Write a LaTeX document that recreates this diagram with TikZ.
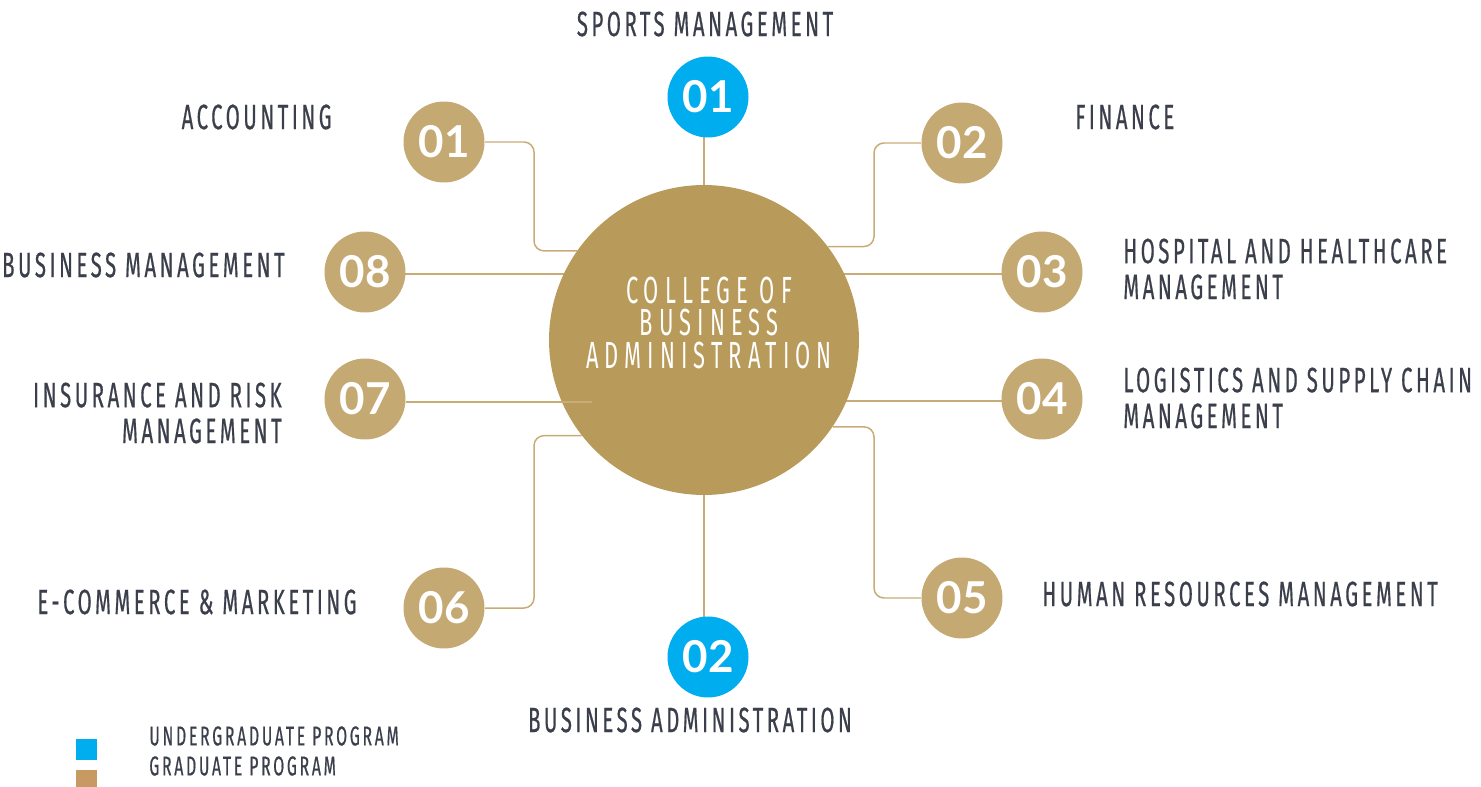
\documentclass[tikz,border=0pt]{standalone}
\usepackage{fontspec}
\usepackage{tikz}
\usetikzlibrary{backgrounds}
\newfontfamily\labfont[FakeStretch=0.58,LetterSpace=10,FakeBold=0.5]{Fira Sans}
\newfontfamily\cbafont[FakeStretch=0.58,LetterSpace=16]{Fira Sans}
\newfontfamily\numfont{Lato}
\definecolor{cbagold}{HTML}{B89A5A}
\definecolor{gradgold}{HTML}{C5A973}
\definecolor{linegold}{HTML}{C8AC78}
\definecolor{ugblue}{HTML}{00AEEF}
\definecolor{legold}{HTML}{C69A62}
\definecolor{labgray}{HTML}{3B3F4B}

\begin{document}
\begin{tikzpicture}[x=0.02cm,y=-0.02cm,
    num/.style={circle,minimum size=1.62cm,inner sep=0pt,text=white,font=\numfont\bfseries\fontsize{25}{25}\selectfont},
    grad/.style={num,fill=gradgold},
    under/.style={num,fill=ugblue},
    link/.style={draw=linegold,line width=0.85pt,rounded corners=0.2cm},
    lbl/.style={text=labgray,inner sep=0pt,font=\labfont\fontsize{20}{20.4}\selectfont},
    cbaline/.style={text=white,inner sep=0pt,text height=15pt,text depth=0pt,font=\cbafont\fontsize{21.5}{21.5}\selectfont},
    legbox/.style={inner sep=0pt,minimum width=0.42cm,minimum height=0.42cm}]
  \useasboundingbox (0,0) rectangle (1481,787);

  % the college in the middle
  \node[circle,fill=cbagold,minimum size=6.2cm,inner sep=0pt] (cba) at (704,340) {};
  \node[cbaline] (cbal1) at (709,290) {COLLEGE OF};
  \node[cbaline] (cbal2) at (709,322) {BUSINESS};
  \node[cbaline] (cbal3) at (709,355) {ADMINISTRATION};

  % program circles
  \node[under] (s1) at (708,97) {01};
  \node[under] (s2) at (708,657) {02};
  \node[grad] (g1) at (444,142) {01};
  \node[grad] (g2) at (962,143) {02};
  \node[grad] (g3) at (1042,272) {03};
  \node[grad] (g4) at (1042,399) {04};
  \node[grad] (g5) at (962,598) {05};
  \node[grad] (g6) at (444,608) {06};
  \node[grad] (g7) at (365,399) {07};
  \node[grad] (g8) at (365,272) {08};

  % connectors
  \begin{scope}[on background layer]
    \draw[link] ([xshift=-0.08cm]s1.center) -- ([xshift=-0.08cm]s1.center |- cba);
    \draw[link] ([xshift=-0.08cm]s2.center) -- ([xshift=-0.08cm]s2.center |- cba);
    \draw[link] (g1) -- ++(90,0) |- (cba.145);
    \draw[link] (g2) -- ++(-88,0) |- (cba.37);
    \draw[link] (g6) -- ++(90,0) |- (cba.218);
    \draw[link] (g5) -- ++(-88,0) |- (cba.326);
    \draw[link] ([yshift=-0.04cm]g8.center) -- ([yshift=-0.04cm]g8.center -| cba);
    \draw[link] ([yshift=-0.04cm]g3.center) -- ([yshift=-0.04cm]g3.center -| cba);
    \draw[link] ([yshift=-0.04cm]g4.center) -- ([yshift=-0.04cm]g4.center -| cba);
  \end{scope}
  \draw[link] ([yshift=-0.06cm]g7.east) -- ++(186,0);

  % labels
  \node[lbl] (sports) at (705,24) {SPORTS MANAGEMENT};
  \node[lbl,anchor=east] (acc) at (332,117) {ACCOUNTING};
  \node[lbl,anchor=west] (fin) at (1075,117) {FINANCE};
  \node[lbl,anchor=east] (bm) at (285,265) {BUSINESS MANAGEMENT};
  \node[lbl,anchor=west,align=left] (hosp) at (1123,269) {HOSPITAL AND HEALTHCARE\\MANAGEMENT};
  \node[lbl,anchor=east,align=right] (ins) at (282,413) {INSURANCE AND RISK\\MANAGEMENT};
  \node[lbl,anchor=west,align=left] (log) at (1123,398) {LOGISTICS AND SUPPLY CHAIN\\MANAGEMENT};
  \node[lbl,anchor=east] (ecom) at (357,602) {E-COMMERCE \& MARKETING};
  \node[lbl,anchor=west] (hr) at (1042,594) {HUMAN RESOURCES MANAGEMENT};
  \node[lbl] (ba) at (690,720) {BUSINESS ADMINISTRATION};

  % legend
  \node[legbox,fill=ugblue,anchor=north west] (ugbox) at (76,739) {};
  \node[legbox,fill=legold,anchor=north west,minimum height=0.34cm] (gbox) at (76,770) {};
  \node[lbl,anchor=west,font=\labfont\fontsize{15.5}{15.5}\selectfont] (ugtext) at (149,736) {UNDERGRADUATE PROGRAM};
  \node[lbl,anchor=west,font=\labfont\fontsize{15.5}{15.5}\selectfont] (gtext) at (149,766) {GRADUATE PROGRAM};
\end{tikzpicture}
\end{document}
